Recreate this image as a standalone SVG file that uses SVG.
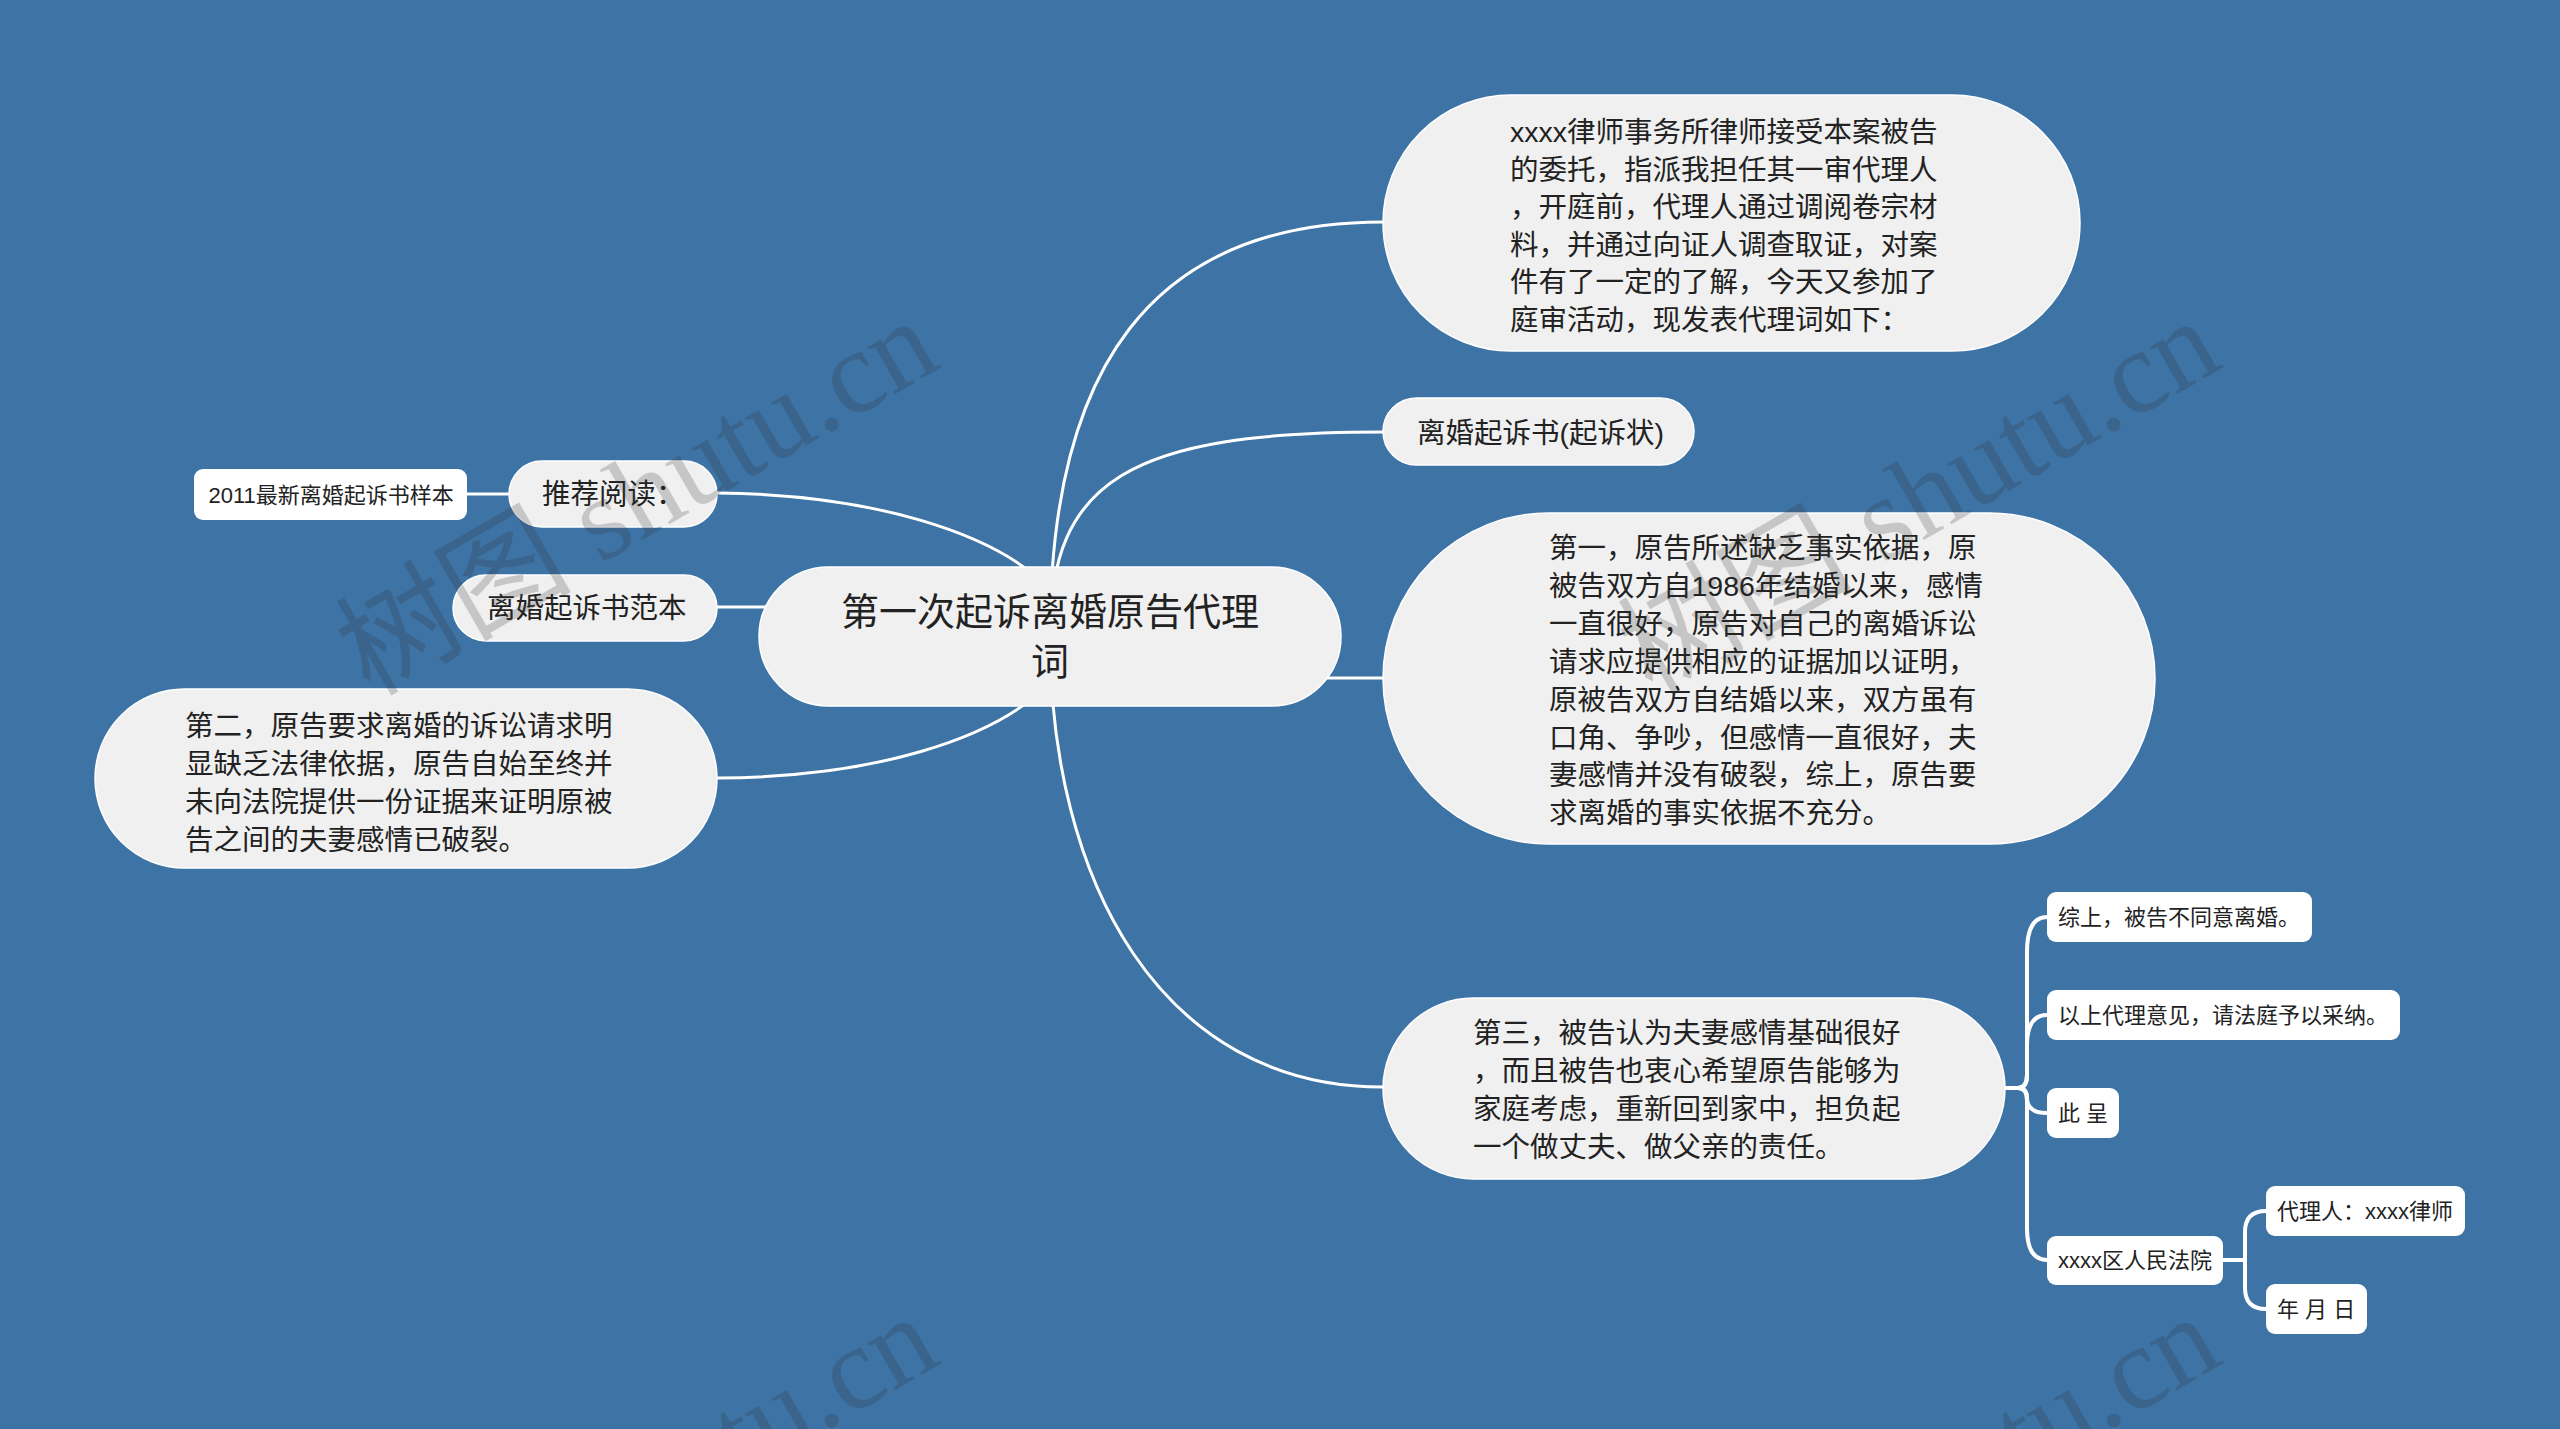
<svg xmlns="http://www.w3.org/2000/svg" width="2560" height="1429" viewBox="0 0 2560 1429">
<style>
.bg{fill:#3d73a5}
.pill{fill:#f0f0f0;stroke:#ffffff;stroke-width:1.5}
.box{fill:#ffffff}
.t{font-family:"Liberation Sans","Noto Sans CJK SC",sans-serif;fill:#222222}
.t28{font-size:28.5px}
.t38{font-size:38px}
.t22{font-size:22px}
.c{fill:none;stroke:#ffffff;stroke-width:3;stroke-linecap:round}
.c2{fill:none;stroke:#ffffff;stroke-width:4;stroke-linecap:round;stroke-linejoin:round}
.wm{font-family:"Liberation Serif","Noto Sans CJK SC",serif;font-size:118px;fill:#333333;fill-opacity:0.22}
</style>
<rect class="bg" x="0" y="0" width="2560" height="1429"/>
<g id="connectors">
<path class="c" d="M1050,636 C1050,370 1150,222 1383,222"/>
<path class="c" d="M1050,636 C1050,480 1130,432 1383,432"/>
<path class="c" d="M1050,636 C1100,678 1200,678 1383,678"/>
<path class="c" d="M1050,636 C1050,880 1160,1087 1383,1087"/>
<path class="c" d="M1040,580 C990,535 880,495 718,493"/>
<path class="c" d="M1050,636 C1000,607 900,607 717,607"/>
<path class="c" d="M1040,692 C990,737 880,777 718,778"/>
<path class="c" d="M509,494 L467,494"/>
<path class="c2" d="M2005,1088 H2018 Q2027,1088 2027,1075 V952 Q2027,917 2047,917"/>
<path class="c2" d="M2005,1088 H2018 Q2027,1088 2027,1075 V1045 Q2027,1015 2047,1015"/>
<path class="c2" d="M2005,1088 H2018 Q2027,1088 2027,1098 Q2027,1113 2047,1113"/>
<path class="c2" d="M2005,1088 H2018 Q2027,1088 2027,1101 V1228 Q2027,1260 2047,1260"/>
<path class="c2" d="M2223,1260 H2245 V1232 Q2245,1211 2266,1211"/>
<path class="c2" d="M2223,1260 H2245 V1288 Q2245,1309 2266,1309"/>
</g>
<g id="root">
<rect class="pill" x="759" y="567" width="582" height="139" rx="69.5"/>
<text class="t t38" x="1050" y="625" text-anchor="middle">第一次起诉离婚原告代理</text>
<text class="t t38" x="1050" y="675" text-anchor="middle">词</text>
</g>
<g id="node-intro">
<rect class="pill" x="1383" y="95" width="697" height="256" rx="128"/>
<text class="t t28" x="1510" y="142">xxxx律师事务所律师接受本案被告</text>
<text class="t t28" x="1510" y="179.6">的委托，指派我担任其一审代理人</text>
<text class="t t28" x="1510" y="217.2">，开庭前，代理人通过调阅卷宗材</text>
<text class="t t28" x="1510" y="254.8">料，并通过向证人调查取证，对案</text>
<text class="t t28" x="1510" y="292.4">件有了一定的了解，今天又参加了</text>
<text class="t t28" x="1510" y="330">庭审活动，现发表代理词如下：</text>
</g>
<g id="node-suzhuang">
<rect class="pill" x="1383" y="398" width="311" height="67" rx="33.5"/>
<text class="t t28" x="1417" y="443">离婚起诉书(起诉状)</text>
</g>
<g id="node-first">
<rect class="pill" x="1383" y="513" width="772" height="331" rx="165.5"/>
<text class="t t28" x="1549" y="558.3">第一，原告所述缺乏事实依据，原</text>
<text class="t t28" x="1549" y="596.2">被告双方自1986年结婚以来，感情</text>
<text class="t t28" x="1549" y="634">一直很好，原告对自己的离婚诉讼</text>
<text class="t t28" x="1549" y="671.9">请求应提供相应的证据加以证明，</text>
<text class="t t28" x="1549" y="709.7">原被告双方自结婚以来，双方虽有</text>
<text class="t t28" x="1549" y="747.6">口角、争吵，但感情一直很好，夫</text>
<text class="t t28" x="1549" y="785.4">妻感情并没有破裂，综上，原告要</text>
<text class="t t28" x="1549" y="823.3">求离婚的事实依据不充分。</text>
</g>
<g id="node-third">
<rect class="pill" x="1383" y="998" width="622" height="181" rx="90.5"/>
<text class="t t28" x="1473" y="1043.3">第三，被告认为夫妻感情基础很好</text>
<text class="t t28" x="1473" y="1081.3">，而且被告也衷心希望原告能够为</text>
<text class="t t28" x="1473" y="1119.3">家庭考虑，重新回到家中，担负起</text>
<text class="t t28" x="1473" y="1157.3">一个做丈夫、做父亲的责任。</text>
</g>
<g id="node-tuijian">
<rect class="pill" x="509" y="461" width="208" height="66" rx="33"/>
<text class="t t28" x="542" y="504">推荐阅读：</text>
</g>
<g id="node-2011">
<rect class="box" x="194" y="469" width="273" height="51" rx="9"/>
<text class="t t22" x="208.5" y="503">2011最新离婚起诉书样本</text>
</g>
<g id="node-fanben">
<rect class="pill" x="453" y="575" width="264" height="66" rx="33"/>
<text class="t t28" x="487" y="618">离婚起诉书范本</text>
</g>
<g id="node-second">
<rect class="pill" x="95" y="689" width="622" height="179" rx="89.5"/>
<text class="t t28" x="185" y="736.3">第二，原告要求离婚的诉讼请求明</text>
<text class="t t28" x="185" y="774.3">显缺乏法律依据，原告自始至终并</text>
<text class="t t28" x="185" y="812.3">未向法院提供一份证据来证明原被</text>
<text class="t t28" x="185" y="850.3">告之间的夫妻感情已破裂。</text>
</g>
<g id="node-zongshang">
<rect class="box" x="2047" y="892" width="265" height="50" rx="9"/>
<text class="t t22" x="2058" y="925">综上，被告不同意离婚。</text>
</g>
<g id="node-yishang">
<rect class="box" x="2047" y="990" width="353" height="50" rx="9"/>
<text class="t t22" x="2058" y="1023">以上代理意见，请法庭予以采纳。</text>
</g>
<g id="node-cicheng">
<rect class="box" x="2047" y="1088" width="72" height="50" rx="9"/>
<text class="t t22" x="2058" y="1121">此 呈</text>
</g>
<g id="node-court">
<rect class="box" x="2047" y="1236" width="176" height="49" rx="9"/>
<text class="t t22" x="2058" y="1268">xxxx区人民法院</text>
</g>
<g id="node-agent">
<rect class="box" x="2266" y="1186" width="199" height="50" rx="9"/>
<text class="t t22" x="2277" y="1219">代理人：xxxx律师</text>
</g>
<g id="node-date">
<rect class="box" x="2266" y="1284" width="101" height="50" rx="9"/>
<text class="t t22" x="2277" y="1317">年 月 日</text>
</g>
<g id="watermarks">
<text class="wm" x="370" y="697" transform="rotate(-30 370 697)">树图 shutu.cn</text>
<text class="wm" x="1652" y="697" transform="rotate(-30 1652 697)">树图 shutu.cn</text>
<text class="wm" x="370" y="1693" transform="rotate(-30 370 1693)">树图 shutu.cn</text>
<text class="wm" x="1652" y="1693" transform="rotate(-30 1652 1693)">树图 shutu.cn</text>
</g>
</svg>
